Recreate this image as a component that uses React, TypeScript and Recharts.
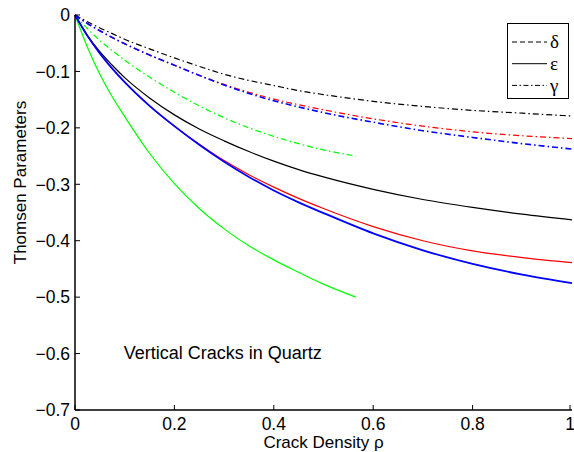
import React from 'react';
import { LineChart, Line, XAxis, YAxis, Legend, ReferenceDot } from 'recharts';

if (typeof document !== 'undefined') {
  document.body.style.margin = '0';
}

// Crack density grids
const rhoFull = [0, 0.025, 0.05, 0.075, 0.1, 0.15, 0.2, 0.25, 0.3, 0.35, 0.4, 0.45, 0.5, 0.6, 0.7, 0.8, 0.9, 1];
const rhoShort = [0, 0.025, 0.05, 0.075, 0.1, 0.15, 0.2, 0.25, 0.3, 0.35, 0.4, 0.45, 0.5, 0.565];

// epsilon (solid)
const epsGreen = [0, -0.057, -0.105, -0.145, -0.18, -0.245, -0.299, -0.343, -0.379, -0.409, -0.434, -0.456, -0.477, -0.5];
const epsRed = [0, -0.037, -0.068, -0.095, -0.119, -0.161, -0.197, -0.229, -0.258, -0.283, -0.305, -0.325, -0.343, -0.375, -0.4, -0.418, -0.43, -0.439];
const epsBlue = [0, -0.037, -0.068, -0.095, -0.119, -0.161, -0.197, -0.23, -0.26, -0.287, -0.311, -0.332, -0.351, -0.387, -0.417, -0.441, -0.46, -0.475];
const epsBlack = [0, -0.036, -0.065, -0.089, -0.111, -0.147, -0.177, -0.202, -0.223, -0.242, -0.259, -0.274, -0.287, -0.309, -0.327, -0.341, -0.353, -0.363];

// gamma (dash-dot)
const gamGreen = [0, -0.024, -0.045, -0.063, -0.08, -0.11, -0.137, -0.161, -0.182, -0.2, -0.215, -0.228, -0.239, -0.25];
const gamRed = [0, -0.015, -0.028, -0.04, -0.051, -0.071, -0.089, -0.107, -0.123, -0.137, -0.149, -0.159, -0.168, -0.184, -0.197, -0.207, -0.214, -0.219];
const gamBlue = [0, -0.015, -0.028, -0.04, -0.051, -0.071, -0.089, -0.107, -0.124, -0.139, -0.152, -0.163, -0.173, -0.19, -0.205, -0.217, -0.228, -0.2375];
const gamBlack = [0, -0.012, -0.023, -0.033, -0.043, -0.06, -0.076, -0.091, -0.105, -0.116, -0.125, -0.134, -0.141, -0.153, -0.162, -0.169, -0.174, -0.179];

const xTicks = [0, 0.2, 0.4, 0.6, 0.8, 1];
const xTickLabels = ['0', '0.2', '0.4', '0.6', '0.8', '1'];
const yTicks = [0, -0.1, -0.2, -0.3, -0.4, -0.5, -0.6, -0.7];
const yTickLabels = ['0', '\u22120.1', '\u22120.2', '\u22120.3', '\u22120.4', '\u22120.5', '\u22120.6', '\u22120.7'];

const legendItems = [
  { label: '\u03b4', dash: '5 3' },
  { label: '\u03b5', dash: undefined },
  { label: '\u03b3', dash: '5 2.5 1.5 2.5' },
];

const DASHDOT = '6 3 1.5 3';
const FONT = 'Liberation Sans, Arial, Helvetica, sans-serif';

const zip = (xs: number[], ys: number[]) => xs.map((x, i) => ({ x, y: ys[i] }));

const series = [
  { key: 'gGreen', data: zip(rhoShort, gamGreen), color: '#00ff00', dash: DASHDOT, w: 1.2 },
  { key: 'gBlack', data: zip(rhoFull, gamBlack), color: '#000000', dash: DASHDOT, w: 1.2 },
  { key: 'gRed', data: zip(rhoFull, gamRed), color: '#ff0000', dash: DASHDOT, w: 1.2 },
  { key: 'gBlue', data: zip(rhoFull, gamBlue), color: '#0000ff', dash: DASHDOT, w: 1.6 },
  { key: 'eGreen', data: zip(rhoShort, epsGreen), color: '#00ff00', dash: undefined, w: 1.2 },
  { key: 'eBlack', data: zip(rhoFull, epsBlack), color: '#000000', dash: undefined, w: 1.2 },
  { key: 'eRed', data: zip(rhoFull, epsRed), color: '#ff0000', dash: undefined, w: 1.2 },
  { key: 'eBlue', data: zip(rhoFull, epsBlue), color: '#0000ff', dash: undefined, w: 1.8 },
];

const xLabel = (v: number) => xTickLabels[xTicks.indexOf(v)] ?? String(v);
const yLabel = (v: number) => {
  const i = yTicks.findIndex((t) => Math.abs(t - v) < 1e-9);
  return i >= 0 ? yTickLabels[i] : String(v);
};

const BottomTick = (p: any) => (
  <g>
    <line x1={p.x} y1={p.y} x2={p.x} y2={p.y - 5} stroke="#000" strokeWidth={1} />
    <text x={p.x} y={p.y + 20} textAnchor="middle" fontSize={17.5} fontFamily={FONT} fill="#000">
      {xLabel(p.payload.value)}
    </text>
  </g>
);
const TopTick = (p: any) => (
  <line x1={p.x} y1={p.y} x2={p.x} y2={p.y + 5} stroke="#000" strokeWidth={1} />
);
const LeftTick = (p: any) => (
  <g>
    <line x1={p.x} y1={p.y} x2={p.x + 5} y2={p.y} stroke="#000" strokeWidth={1} />
    <text x={p.x - 5} y={p.y} dy="0.36em" textAnchor="end" fontSize={17.5} fontFamily={FONT} fill="#000">
      {yLabel(p.payload.value)}
    </text>
  </g>
);
const RightTick = (p: any) => (
  <line x1={p.x} y1={p.y} x2={p.x - 5} y2={p.y} stroke="#000" strokeWidth={1} />
);

const YTitle = (p: any) => {
  const vb = p.viewBox;
  const cx = vb.x + 20;
  const cy = vb.y + vb.height / 2 - 30;
  return (
    <text x={cx} y={cy} transform={`rotate(-90 ${cx} ${cy})`} textAnchor="middle" dy="0.36em" fontSize={17} fontFamily={FONT} fill="#000">
      Thomsen Parameters
    </text>
  );
};

const NoteLabel = (p: any) => {
  const vb = p.viewBox;
  return (
    <text x={vb.x} y={vb.y} dy="0.36em" textAnchor="start" fontSize={18} fontFamily={FONT} fill="#000">
      Vertical Cracks in Quartz
    </text>
  );
};

const LegendBox = () => (
  <div style={{ width: 62, height: 76, border: '1px solid #000', background: '#fff', boxSizing: 'border-box' }}>
    <svg width={60} height={74} style={{ display: 'block' }}>
      {legendItems.map((it, i) => {
        const yy = 18 + i * 21.7;
        return (
          <g key={it.label}>
            <line x1={4} x2={39} y1={yy} y2={yy} stroke="#000" strokeWidth={1} strokeDasharray={it.dash} />
            <text x={42} y={yy} dy="0.33em" fontSize={19} fontFamily="Liberation Serif, Times New Roman, serif" fill="#000">
              {it.label}
            </text>
          </g>
        );
      })}
    </svg>
  </div>
);

export default function App() {
  return (
    <div style={{ width: 574, height: 452, background: '#fff' }}>
      <LineChart width={574} height={452} margin={{ top: 15, right: 2, bottom: 0, left: 0 }}>
        <XAxis
          dataKey="x"
          type="number"
          domain={[0, 1]}
          ticks={xTicks}
          allowDuplicatedCategory={false}
          height={42}
          tickSize={0}
          tickMargin={0}
          tickLine={false}
          tick={<BottomTick />}
          axisLine={{ stroke: '#000', strokeWidth: 1.5 }}
          label={{ value: 'Crack Density \u03c1', position: 'insideBottom', offset: 4, fontSize: 17, fontFamily: FONT, fill: '#000' }}
        />
        <XAxis
          xAxisId="top"
          orientation="top"
          dataKey="x"
          type="number"
          domain={[0, 1]}
          ticks={xTicks}
          allowDuplicatedCategory={false}
          height={0}
          tickSize={0}
          tickMargin={0}
          tickLine={false}
          tick={<TopTick />}
          axisLine={{ stroke: '#000', strokeWidth: 1.5 }}
        />
        <YAxis
          type="number"
          domain={[-0.7, 0]}
          ticks={yTicks}
          width={75}
          tickSize={0}
          tickMargin={0}
          tickLine={false}
          tick={<LeftTick />}
          axisLine={{ stroke: '#000', strokeWidth: 1.5 }}
          label={<YTitle />}
        />
        <YAxis
          yAxisId="right"
          orientation="right"
          type="number"
          domain={[-0.7, 0]}
          ticks={yTicks}
          width={0}
          tickSize={0}
          tickMargin={0}
          tickLine={false}
          tick={<RightTick />}
          axisLine={{ stroke: '#000', strokeWidth: 1.5 }}
        />
        {series.map((s) => (
          <Line
            key={s.key}
            data={s.data}
            dataKey="y"
            type="monotone"
            stroke={s.color}
            strokeWidth={s.w}
            strokeDasharray={s.dash}
            dot={false}
            activeDot={false}
            isAnimationActive={false}
            legendType="none"
          />
        ))}
        <ReferenceDot x={0.1} y={-0.6} r={1} fill="none" stroke="none" label={<NoteLabel />} />
        <Legend
          layout="horizontal"
          align="center"
          verticalAlign="middle"
          content={<LegendBox />}
          wrapperStyle={{ left: 507, top: 23, width: 62, height: 76 }}
        />
      </LineChart>
    </div>
  );
}
